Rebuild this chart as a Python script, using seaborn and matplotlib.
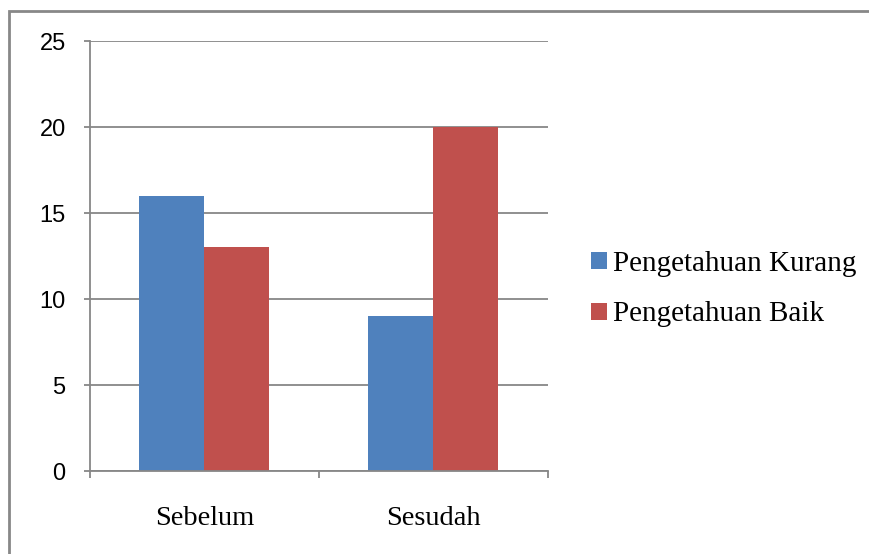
import matplotlib
matplotlib.use("Agg")
import matplotlib.pyplot as plt
from matplotlib.patches import Rectangle, Patch
import seaborn as sns
import pandas as pd

# Data
categories = ["Sebelum", "Sesudah"]
series_names = ["Pengetahuan Kurang", "Pengetahuan Baik"]
kurang = [16, 9]
baik = [13, 20]
y_ticks = [0, 5, 10, 15, 20, 25]

colors = ["#4F81BD", "#C0504D"]
grid_gray = "#878787"

df = pd.DataFrame({
    "kategori": categories * 2,
    "seri": [series_names[0]] * 2 + [series_names[1]] * 2,
    "nilai": kurang + baik,
})

sns.set_style("white")
plt.rcParams["text.color"] = "black"
plt.rcParams["xtick.labelcolor"] = "black"
plt.rcParams["ytick.labelcolor"] = "black"

W, H = 870, 554
fig = plt.figure(figsize=(W / 100, H / 100), dpi=100)
ax = fig.add_axes([90 / W, 1 - 471 / H, (548 - 90) / W, (471 - 41) / H])

sns.barplot(data=df, x="kategori", y="nilai", hue="seri", palette=colors,
            width=130 / 229, saturation=1, errorbar=None, ax=ax, legend=False,
            linewidth=0)

ax.set_xlim(-0.5, 1.5)
ax.set_ylim(0, 25)
ax.set_yticks(y_ticks)
ax.set_yticklabels([str(v) for v in y_ticks], fontfamily="Liberation Sans",
                   fontsize=17, color="black")
ax.yaxis.grid(True, color=grid_gray, linewidth=1.3)
ax.set_axisbelow(True)
ax.tick_params(axis="y", length=4.5, width=1.3, color=grid_gray, pad=13,
               direction="out", left=True)

# Category labels centred, tick marks on category boundaries
ax.set_xticks([0, 1])
ax.set_xticklabels(categories, fontfamily="Liberation Serif", fontsize=20.5,
                   color="black")
ax.tick_params(axis="x", which="major", length=0, pad=25)
ax.set_xticks([-0.5, 0.5, 1.5], minor=True)
ax.tick_params(axis="x", which="minor", length=5, width=1.3, color=grid_gray,
               direction="out", bottom=True)

ax.set_xlabel("")
ax.set_ylabel("")
for s in ["top", "right"]:
    ax.spines[s].set_visible(False)
for s in ["left", "bottom"]:
    ax.spines[s].set_color(grid_gray)
    ax.spines[s].set_linewidth(1.3)

handles = [Patch(facecolor=c, edgecolor="none") for c in colors]
leg = fig.legend(handles, series_names, loc="center left",
                 bbox_to_anchor=(568 / W, 1 - 289 / H), frameon=False,
                 prop={"family": "Liberation Serif", "size": 21},
                 handlelength=0.52, handleheight=0.52, handletextpad=0.22,
                 labelspacing=0.85, borderpad=0.3)
for t in leg.get_texts():
    t.set_color("black")

# Outer chart border
fig.patches.append(Rectangle((9.5 / W, -0.1), 2, 1 - 11 / H + 0.1,
                             transform=fig.transFigure, fill=False,
                             edgecolor="#888888", linewidth=2))

fig.savefig("out.png", dpi=100, facecolor="white")
